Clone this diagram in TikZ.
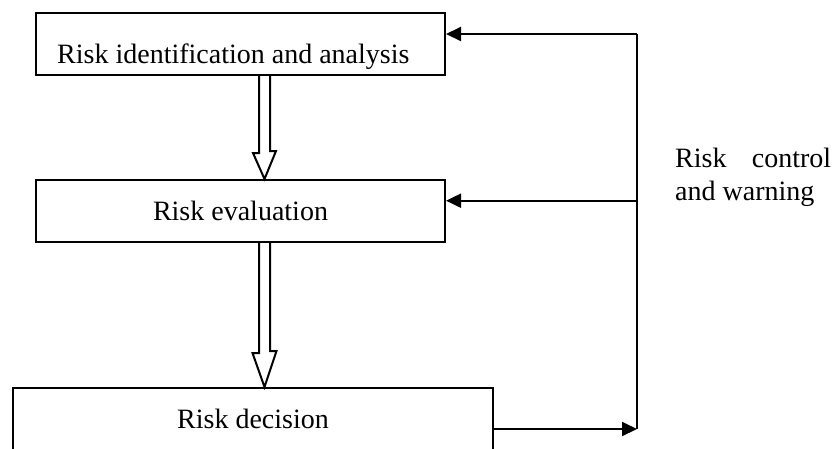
\documentclass[tikz,border=0pt]{standalone}
\usepackage{fontspec}
\setmainfont{Liberation Serif}
\usetikzlibrary{arrows.meta}
\begin{document}
\begin{tikzpicture}[x=1pt,y=-1pt,
  box/.style={draw,line width=2pt,inner sep=0pt},
  txt/.style={anchor=base,inner sep=0pt,font=\fontsize{28}{33}\selectfont},
  hollow/.style={draw,line width=2pt,line join=miter},
  fb/.style={line width=2pt},
  fbarr/.style={line width=2pt,-{Triangle[length=15pt,width=14pt]}}]
\useasboundingbox (0,0) rectangle (836,448);
\begin{scope}
\clip (0,0) rectangle (836,448);
\node[box,minimum width=409pt,minimum height=62pt] (b1) at (240.5,44) {};
\node[box,minimum width=409pt,minimum height=62pt] (b2) at (240.5,211) {};
\node[box,minimum width=480pt,minimum height=64pt] (b3) at (252.85,420) {};
\end{scope}
\node[txt,anchor=base west] (t1) at (57,63) {Risk identification and analysis};
\node[txt] (t2) at (240.5,220) {Risk evaluation};
\node[txt] (t3) at (253,428) {Risk decision};
% hollow arrows
\draw[hollow] ([xshift=18.5pt]b1.south) -- ++(0,77) -- ++(-6,0) -- ([xshift=24pt]b2.north) -- ++(11.5,-28) -- ++(-6,0) -- ([xshift=29.5pt]b1.south);
\draw[hollow] ([xshift=18.5pt]b2.south) -- ++(0,110) -- ++(-6.5,0) -- ([xshift=11.65pt]b3.north) -- ++(12,-36) -- ++(-6.5,0) -- ([xshift=29.5pt]b2.south);
% feedback
\coordinate (fT) at (637,34);
\coordinate (fM) at (637,200.7);
\coordinate (fB) at (637,429);
\draw[fb] (fB) -- (fT);
\draw[fbarr] (fT) -- (b1.east |- fT);
\draw[fbarr] (fM) -- (b2.east |- fM);
\draw[fbarr] (b3.east |- fB) -- (fB);
\node[txt,anchor=base west,text width=156pt,align=justify] (lab) at (675,167) {Risk\hfill control\\and warning};
\end{tikzpicture}
\end{document}
